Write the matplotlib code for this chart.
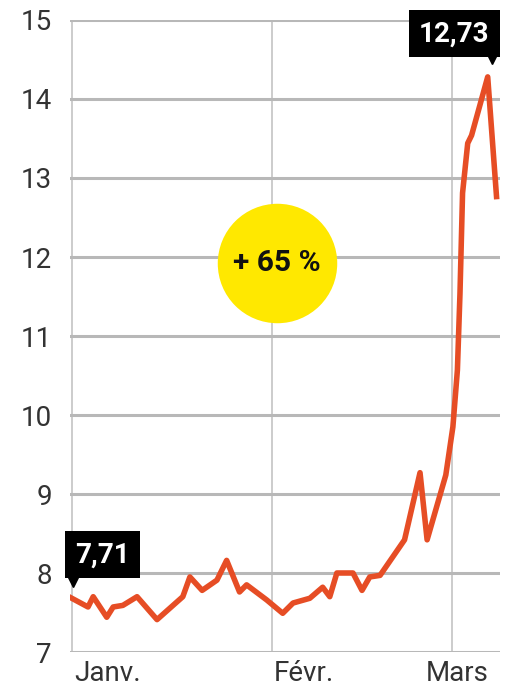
import numpy as np
import matplotlib
matplotlib.use("Agg")
from matplotlib import pyplot as plt
from matplotlib.transforms import offset_copy, ScaledTranslation

plt.rcParams['font.family'] = ['Roboto', 'DejaVu Sans']

# day index counted from 1 January
days = [-0.7, 2.5, 3.3, 5.4, 6.4, 7.9, 10.1, 13.2, 17.2, 18.3, 20.2, 22.5,
        24.0, 26.0, 27.1, 30.2, 32.7, 34.3, 36.9, 38.9, 40.0, 41.1, 43.6,
        45.0, 46.2, 47.8, 51.6, 54.0, 55.1, 58.0, 59.1, 59.8, 60.2, 60.6,
        61.4, 62.0, 64.5, 65.9]
prices = [7.71, 7.57, 7.70, 7.44, 7.57, 7.59, 7.70, 7.41, 7.70, 7.95, 7.78,
          7.91, 8.16, 7.76, 7.85, 7.66, 7.49, 7.62, 7.68, 7.82, 7.70, 8.00,
          8.00, 7.78, 7.95, 7.97, 8.42, 9.27, 8.42, 9.24, 9.85, 10.57, 11.54,
          12.81, 13.44, 13.54, 14.28, 12.73]

month_pos = [0, 31, 59]
month_labels = ["Janv.", "Févr.", "Mars"]
y_ticks = [7, 8, 9, 10, 11, 12, 13, 14, 15]
change_label = "+ 65 %"

line_color = "#e64d25"

fig = plt.figure(figsize=(5.05, 6.92), dpi=100)
ax = fig.add_axes([0.1386, 0.0578, 0.8514, 0.9133])

ax.set_xlim(-0.3, 66.4)
ax.set_ylim(7, 15)
for s in ax.spines.values():
    s.set_visible(False)

ax.set_yticks(y_ticks)
ax.set_yticklabels([str(t) for t in y_ticks])
ax.set_xticks(month_pos)
ax.set_xticklabels(month_labels)
ax.tick_params(length=0, labelsize=20, labelcolor="#333333")
ax.tick_params(axis="y", pad=13)
ax.tick_params(axis="x", pad=6)
xl = ax.get_xticklabels()
xl[0].set_ha("left")
xl[1].set_ha("left")
xl[2].set_ha("center")
xl[0].set_transform(xl[0].get_transform() + ScaledTranslation(0.02, 0, fig.dpi_scale_trans))
xl[1].set_transform(xl[1].get_transform() + ScaledTranslation(0.02, 0, fig.dpi_scale_trans))
xl[2].set_transform(xl[2].get_transform() + ScaledTranslation(0.05, 0, fig.dpi_scale_trans))

ax.grid(axis="y", color="#b8b8b8", lw=2.2)
ax.grid(axis="x", color="#cccccc", lw=1.4)
ax.set_axisbelow(True)

ax.plot(days, prices, color=line_color, lw=4.0, solid_joinstyle="round",
        solid_capstyle="butt", zorder=3)

# yellow badge with the overall change
ax.scatter([31.8], [11.92], s=7400, color="#ffe800", zorder=2, lw=0)
ax.text(31.8, 11.92, change_label, ha="center", va="center", fontsize=21.5,
        fontweight="bold", color="#111111", zorder=4)

# first value tag
tag = dict(boxstyle="square,pad=0.36", fc="black", ec="none")
ax.annotate(f"{prices[0]:.2f}".replace(".", ","), xy=(days[0], prices[0]),
            xytext=(5.5, 29.5), textcoords="offset points", ha="left",
            va="center", fontsize=20, fontweight="bold", color="white",
            bbox=tag, zorder=5, annotation_clip=False)
tri = offset_copy(ax.transData, fig=fig, x=4.0, y=11.0, units="points")
ax.plot([days[0]], [prices[0]], marker="v", ms=9, color="black", lw=0,
        transform=tri, zorder=5, clip_on=False)

# last value tag, parked at the top right
ax.text(0.894, 0.978, f"{prices[-1]:.2f}".replace(".", ","),
        transform=ax.transAxes, ha="center", va="center", fontsize=20,
        fontweight="bold", color="white", bbox=tag, zorder=5, clip_on=False)
ax.plot([0.982], [0.940], marker="v", ms=9, color="black", lw=0,
        transform=ax.transAxes, zorder=5, clip_on=False)

fig.savefig("out.png", dpi=100)
